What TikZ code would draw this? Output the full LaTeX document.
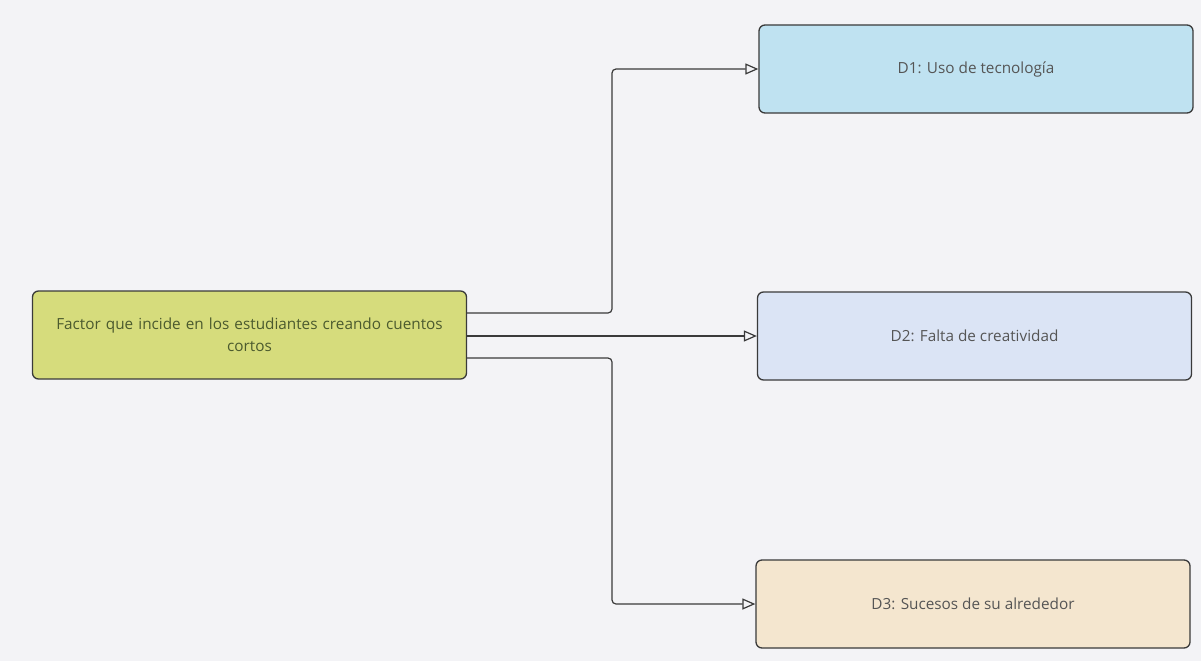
\documentclass[tikz,border=0pt]{standalone}
\usepackage{fontspec}
\setmainfont{Open Sans}
\usetikzlibrary{arrows.meta}
\definecolor{bgc}{HTML}{F3F3F6}
\definecolor{srcfill}{HTML}{D6DC7C}
\definecolor{dafill}{HTML}{BFE2F1}
\definecolor{dbfill}{HTML}{DBE4F5}
\definecolor{dcfill}{HTML}{F4E6CF}
\definecolor{edge}{HTML}{3A3A3A}
\definecolor{srctext}{HTML}{4B5A2E}
\definecolor{btext}{HTML}{555555}
\tikzset{
  box/.style={draw=edge, line width=1.3pt, rounded corners=6pt, align=center,
    minimum width=434pt, minimum height=88pt, inner sep=0pt,
    font=\fontsize{15.3}{21.5}\selectfont},
  conn/.style={draw=edge, line width=1.2pt, rounded corners=4pt,
    -{Triangle[open, length=13pt, width=11pt]}}
}
\begin{document}
\begin{tikzpicture}[x=1pt,y=-1pt]
\fill[bgc] (0,0) rectangle (1201,661);
\useasboundingbox (0,0) rectangle (1201,661);
\node[box, fill=srcfill, text=srctext, text width=428pt] (src) at (249.5,335)
  {Factor que incide en los estudiantes creando cuentos\\cortos};
\node[box, fill=dafill, text=btext] (d1) at (976,69) {D1: Uso de tecnología};
\node[box, fill=dbfill, text=btext] (d2) at (974.5,336) {D2: Falta de creatividad};
\node[box, fill=dcfill, text=btext] (d3) at (973,604) {D3: Sucesos de su alrededor};
\coordinate (v1) at (612,313);
\coordinate (v3) at (612,358);
\draw[conn] ([yshift=22pt]src.east) -- (v1) |- (d1.west);
\draw[conn] (src.east |- d2.west) -- (d2.west);
\draw[conn] ([yshift=-23pt]src.east) -- (v3) |- (d3.west);
\end{tikzpicture}
\end{document}
